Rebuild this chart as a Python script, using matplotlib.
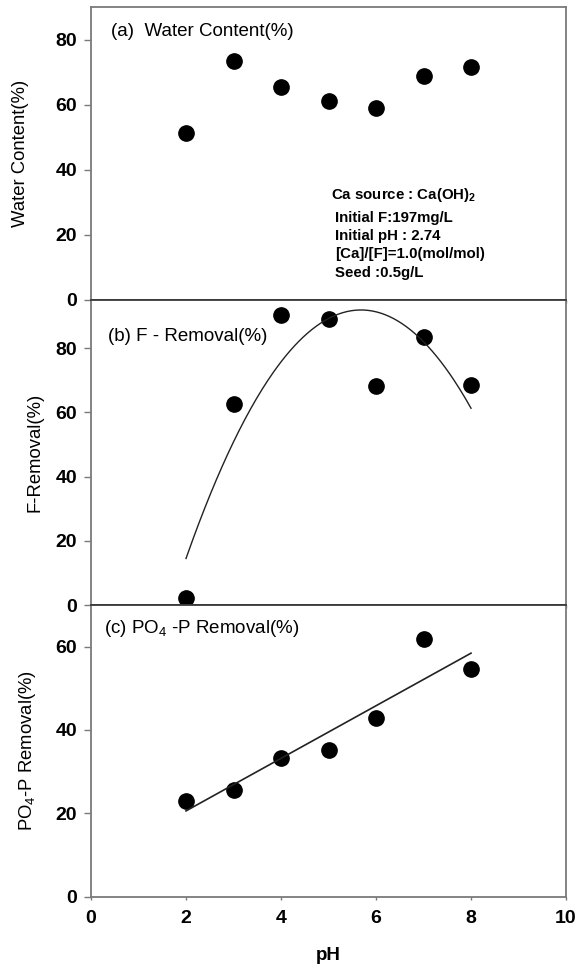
import matplotlib
matplotlib.use('Agg')
import matplotlib.pyplot as plt
import numpy as np

plt.rcParams['font.family'] = ['Liberation Sans', 'DejaVu Sans']
plt.rcParams['mathtext.fontset'] = 'custom'
plt.rcParams['mathtext.rm'] = 'Liberation Sans'
plt.rcParams['mathtext.bf'] = 'Liberation Sans:bold'

ph = [2, 3, 4, 5, 6, 7, 8]
water_content = [51.3, 73.5, 65.6, 61.2, 59.2, 68.8, 71.8]
f_removal = [2.3, 62.6, 90.5, 89.2, 68.3, 83.6, 68.5]
po4_removal = [23.0, 25.6, 33.3, 35.3, 42.9, 61.8, 54.6]

info_lines = ['Initial F:197mg/L', 'Initial pH : 2.74',
              '[Ca]/[F]=1.0(mol/mol)', 'Seed :0.5g/L']

frame = '#7a7a7a'
edge = '#3a3a3a'

fig = plt.figure(figsize=(5.86, 9.67), dpi=100)
L, W = 0.1553, 0.8106
ax1 = fig.add_axes([L, 0.6898, W, 0.3025])
ax2 = fig.add_axes([L, 0.3743, W, 0.3154])
ax3 = fig.add_axes([L, 0.0729, W, 0.3014])

for ax in (ax1, ax2, ax3):
    ax.set_xlim(0, 10)
    ax.set_xticks([0, 2, 4, 6, 8, 10])
    for s in ax.spines.values():
        s.set_color(frame)
        s.set_linewidth(1.3)
    ax.tick_params(axis='y', direction='out', length=5, width=1, color=frame,
                   pad=5, labelsize=14)
    ax.tick_params(axis='x', direction='out', length=2, width=1, color=frame,
                   pad=8, labelsize=14)

ax1.spines['bottom'].set_color(edge)
ax2.spines['top'].set_color(edge)
ax2.spines['bottom'].set_color(edge)
ax3.spines['top'].set_color(edge)
ax1.tick_params(axis='x', labelbottom=False)
ax2.tick_params(axis='x', labelbottom=False)

lab_fs = 13.3
txt_fs = 13.5

# (a) water content
ax1.plot(ph, water_content, 'o', color='black', markersize=11)
ax1.set_ylim(0, 90)
ax1.set_yticks([0, 20, 40, 60, 80])
ax1.set_ylabel('Water Content(%)', fontsize=lab_fs)
ax1.yaxis.set_label_coords(-0.130, 0.5)
ax1.text(0.42, 82.5, '(a)  Water Content(%)', fontsize=txt_fs, va='center')
ax1.text(5.05, 32.3, r'Ca source : Ca(OH)$_{\mathbf{2}}$', fontsize=10.8,
         fontweight='bold', va='center')
for yy, line in zip([25.2, 19.7, 14.2, 8.3], info_lines):
    ax1.text(5.14, yy, line, fontsize=10.8, fontweight='bold', va='center')

# (b) F removal with quadratic fit
ax2.plot(ph, f_removal, 'o', color='black', markersize=11)
c2 = np.polyfit(ph, f_removal, 2)
xs = np.linspace(2, 8, 200)
ax2.plot(xs, np.polyval(c2, xs), color='#222222', lw=1)
ax2.set_ylim(0, 95)
ax2.set_yticks([0, 20, 40, 60, 80])
ax2.set_ylabel('F-Removal(%)', fontsize=lab_fs)
ax2.yaxis.set_label_coords(-0.099, 0.5)
ax2.text(0.36, 83.6, '(b) F - Removal(%)', fontsize=txt_fs, va='center')

# (c) PO4-P removal with linear fit
ax3.plot(ph, po4_removal, 'o', color='black', markersize=11)
c3 = np.polyfit(ph, po4_removal, 1)
ax3.plot(xs, np.polyval(c3, xs), color='#222222', lw=1.2)
ax3.set_ylim(0, 70)
ax3.set_yticks([0, 20, 40, 60])
ax3.set_ylabel(r'PO$_4$-P Removal(%)', fontsize=lab_fs)
ax3.yaxis.set_label_coords(-0.112, 0.5)
ax3.text(0.28, 64.3, r'(c) PO$_4$ -P Removal(%)', fontsize=txt_fs, va='center')
ax3.set_xlabel('pH', fontsize=13.5, fontweight='bold', labelpad=14)

for ax in (ax1, ax2, ax3):
    for lbl in ax.get_yticklabels() + ax.get_xticklabels():
        lbl.set_fontweight('bold')

fig.savefig('out.png', dpi=100)
